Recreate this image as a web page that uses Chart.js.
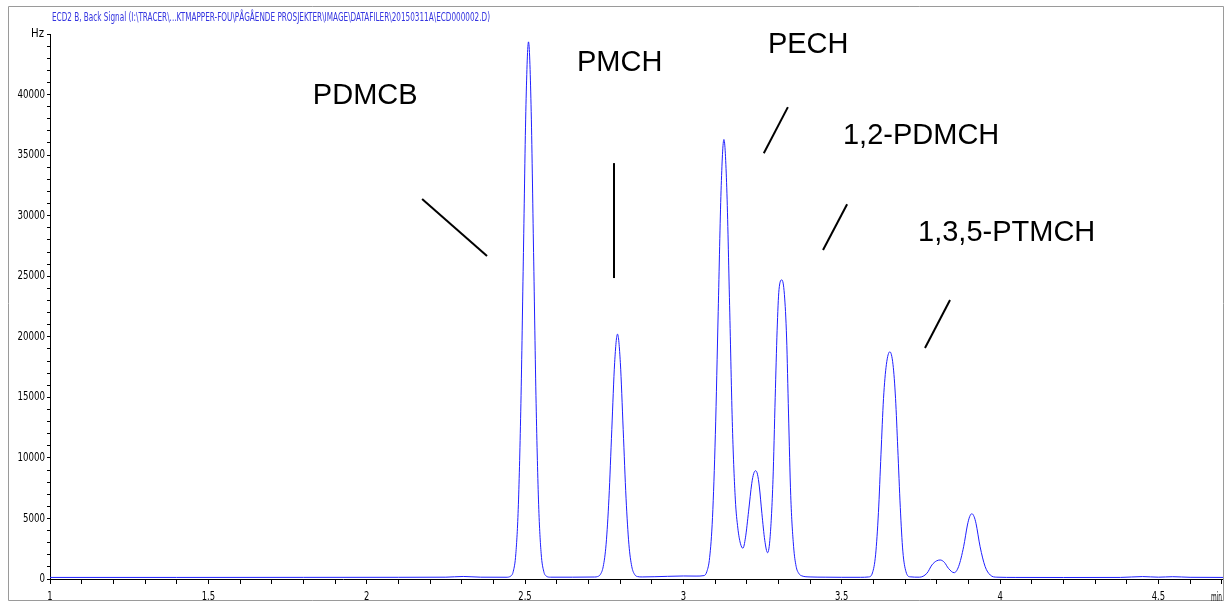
<!DOCTYPE html>
<html>
<head>
<meta charset="utf-8">
<title>ECD2 B, Back Signal</title>
<script src="https://cdn.jsdelivr.net/npm/chart.js@4.4.1/dist/chart.umd.min.js"></script>
<style>
  html, body { margin: 0; padding: 0; background: #fff; }
  canvas { display: block; }
</style>
</head>
<body>
<canvas id="chromatogram" width="1230" height="603"></canvas>
<script>
const SIGNAL_TITLE = 'ECD2 B, Back Signal (I:\\TRACER\\...KTMAPPER-FOU\\PÅGÅENDE PROSJEKTER\\IMAGE\\DATAFILER\\20150311A\\ECD000002.D)';

// retention time (min)
const retentionTimes = [
  1.000, 1.400, 1.800, 2.100, 2.250, 2.305, 2.360, 2.440,
  2.455, 2.463, 2.471, 2.479, 2.487, 2.495, 2.503, 2.511, 2.519, 2.527, 2.535, 2.543, 2.551, 2.559, 2.567, 2.580,
  2.650, 2.720,
  2.729, 2.738, 2.747, 2.756, 2.765, 2.774, 2.783, 2.792, 2.801, 2.810, 2.819, 2.828, 2.837, 2.846, 2.855, 2.870,
  2.950, 3.000, 3.040,
  3.065, 3.074, 3.083, 3.092, 3.101, 3.110, 3.119, 3.128, 3.137, 3.146, 3.155, 3.164, 3.172, 3.180, 3.188,
  3.196, 3.206, 3.216, 3.222, 3.228, 3.234, 3.240, 3.248, 3.257, 3.266,
  3.274, 3.283, 3.290, 3.296, 3.302, 3.311, 3.319, 3.326, 3.332, 3.339, 3.348, 3.356, 3.364, 3.374,
  3.400, 3.450, 3.500, 3.560,
  3.585, 3.597, 3.607, 3.616, 3.624, 3.632, 3.641, 3.652, 3.662, 3.670, 3.677, 3.685, 3.693, 3.703, 3.716,
  3.745, 3.769, 3.785, 3.799, 3.811, 3.824, 3.837, 3.855,
  3.869, 3.885, 3.897, 3.904, 3.911, 3.918, 3.924, 3.937, 3.953, 3.969, 3.990,
  4.050, 4.200, 4.380, 4.450, 4.500, 4.545, 4.600, 4.704
];

// ECD response (Hz)
const signalHz = [
  130, 130, 135, 140, 150, 210, 150, 145,
  240, 640, 2090, 6130, 14500, 26960, 39160, 44350, 39160, 26960, 14500, 6130, 2090, 640, 240, 150,
  150, 165,
  200, 380, 1040, 2870, 6670, 12330, 17860, 20220, 17860, 12330, 6670, 2870, 1040, 380, 200, 170,
  220, 250, 240,
  280, 600, 1780, 5080, 11920, 22090, 32050, 36290, 32300, 22600, 12500, 6600, 4200, 2950, 2540,
  3400, 5600, 7900, 8700, 8940, 8650, 7600, 5400, 3200, 2170,
  3500, 8200, 15000, 20500, 23900, 24700, 23500, 19900, 13700, 6900, 2700, 1050, 480, 260,
  170, 150, 140, 140,
  170, 500, 2000, 5500, 10300, 14900, 17700, 18760, 17700, 14900, 10800, 5900, 2300, 600, 180,
  150, 470, 1160, 1490, 1570, 1380, 880, 520,
  1020, 2670, 4460, 5150, 5390, 5150, 4600, 2670, 1020, 330, 150,
  130, 125, 130, 200, 150, 190, 140, 130
];

const xTickValues = [1, 1.5, 2, 2.5, 3, 3.5, 4, 4.5];
const xTickLabels = ['1', '1.5', '2', '2.5', '3', '3.5', '4', '4.5'];
const yTickValues = [0, 5000, 10000, 15000, 20000, 25000, 30000, 35000, 40000];
const yUnitTick = 45000;   // top tick carries the unit instead of a number
const X_MIN = 1, X_MAX = 4.704;

// peak names, anchored in (min, Hz)
const peakNames = ['PDMCB', 'PMCH', 'PECH', '1,2-PDMCH', '1,3,5-PTMCH'];
const nameTimes = [1.830, 2.664, 3.267, 3.504, 3.741];
const nameHz    = [39900, 42630, 44120, 36570, 28600];
// pointer strokes next to each name
const pointerT0  = [2.175, 2.781, 3.254, 3.441, 3.763];
const pointerHz0 = [31370, 34340, 35160, 27160, 19070];
const pointerT1  = [2.380, 2.781, 3.330, 3.517, 3.842];
const pointerHz1 = [26660, 24850, 38960, 30950, 23030];

const NARROW = '"Liberation Sans Narrow", "Arial Narrow", "DejaVu Sans Condensed", sans-serif';

function minorTicks(from, to, step) {
  const out = [];
  const n = Math.round((to - from) / step);
  for (let i = 0; i <= n; i++) out.push({ value: Math.round((from + i * step) * 1000) / 1000 });
  return out;
}

const decor = {
  id: 'decor',
  afterDraw(chart) {
    const { ctx, chartArea: a, scales: { x, y } } = chart;
    ctx.save();

    // outer frame
    ctx.strokeStyle = '#9a9a9a';
    ctx.lineWidth = 1;
    ctx.beginPath();
    ctx.moveTo(8.5, 600.5);
    ctx.lineTo(8.5, 6.5);
    ctx.lineTo(a.right + 0.5, 6.5);
    ctx.lineTo(a.right + 0.5, 600.5);
    ctx.lineTo(8.5, 600.5);
    ctx.stroke();

    // title
    ctx.fillStyle = '#3434e0';
    ctx.font = '12px ' + NARROW;
    ctx.textAlign = 'left';
    ctx.textBaseline = 'alphabetic';
    ctx.fillText(SIGNAL_TITLE, 52, 21, 438);

    // y tick labels
    ctx.fillStyle = '#000';
    ctx.font = '12px ' + NARROW;
    ctx.textAlign = 'right';
    ctx.textBaseline = 'middle';
    yTickValues.forEach(v => {
      const s = String(v);
      ctx.fillText(s, 45, y.getPixelForValue(v), ctx.measureText(s).width * 0.8);
    });
    ctx.fillText('Hz', 44, y.getPixelForValue(yUnitTick), 13);

    // x tick labels
    ctx.font = '13px ' + NARROW;
    ctx.textAlign = 'center';
    ctx.textBaseline = 'alphabetic';
    xTickValues.forEach((v, i) => {
      const s = xTickLabels[i];
      ctx.fillText(s, x.getPixelForValue(v), 600, ctx.measureText(s).width * 0.72);
    });
    ctx.font = '12px ' + NARROW;
    ctx.textAlign = 'right';
    ctx.fillText('min', a.right - 1, 601, 11);

    // peak names and pointers
    ctx.font = '29px "Liberation Sans", Arial, sans-serif';
    ctx.textAlign = 'left';
    ctx.textBaseline = 'middle';
    peakNames.forEach((name, i) => {
      ctx.fillText(name, x.getPixelForValue(nameTimes[i]), y.getPixelForValue(nameHz[i]));
    });
    ctx.strokeStyle = '#000';
    ctx.lineWidth = 2;
    peakNames.forEach((name, i) => {
      ctx.beginPath();
      ctx.moveTo(x.getPixelForValue(pointerT0[i]), y.getPixelForValue(pointerHz0[i]));
      ctx.lineTo(x.getPixelForValue(pointerT1[i]), y.getPixelForValue(pointerHz1[i]));
      ctx.stroke();
    });

    ctx.restore();
  }
};

new Chart(document.getElementById('chromatogram'), {
  type: 'line',
  data: {
    datasets: [{
      data: retentionTimes.map((t, i) => ({ x: t, y: signalHz[i] })),
      borderColor: '#1f1fff',
      borderWidth: 1,
      pointRadius: 0,
      fill: false,
      cubicInterpolationMode: 'monotone'
    }]
  },
  options: {
    responsive: false,
    devicePixelRatio: 1,
    animation: false,
    layout: { padding: { top: 34, right: 7, bottom: 0, left: 0 } },
    plugins: { legend: { display: false }, tooltip: { enabled: false } },
    scales: {
      x: {
        type: 'linear',
        min: X_MIN,
        max: X_MAX,
        border: { display: true, color: '#000', width: 1 },
        grid: { drawOnChartArea: false, drawTicks: true, tickLength: 5, tickColor: '#000' },
        ticks: { display: false, autoSkip: false },
        afterBuildTicks: s => { s.ticks = minorTicks(1, 4.7, 0.1); },
        afterFit: s => { s.height = 24; }
      },
      y: {
        type: 'linear',
        min: 0,
        max: yUnitTick,
        border: { display: true, color: '#000', width: 1 },
        grid: { drawOnChartArea: false, drawTicks: true, tickLength: 3, tickColor: '#000' },
        ticks: { display: false, autoSkip: false },
        afterBuildTicks: s => { s.ticks = minorTicks(0, yUnitTick, 1000); },
        afterFit: s => { s.width = 50; }
      }
    }
  },
  plugins: [decor]
});
</script>
</body>
</html>
